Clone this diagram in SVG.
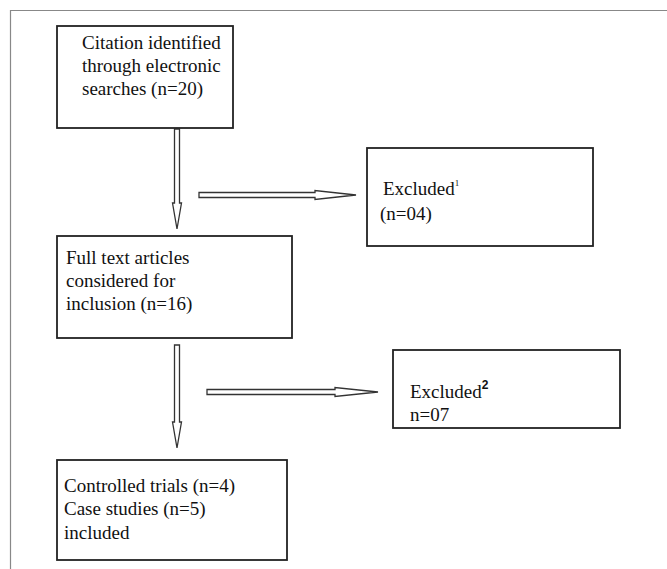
<svg xmlns="http://www.w3.org/2000/svg" width="667" height="569" viewBox="0 0 667 569">
<style>
.box{fill:#fff;stroke:#222;stroke-width:1.8}
.t{font-family:"Liberation Serif","Times New Roman",serif;font-size:19px;fill:#111}
.arr{fill:#fff;stroke:#333;stroke-width:1.3;stroke-linejoin:miter}
.frame{stroke:#888;stroke-width:1.2;fill:none}
</style>
<rect width="667" height="569" fill="#fff"/>
<path class="frame" d="M10.5 569 V10.5 H667"/>
<g id="connectors">
<path class="arr" d="M174.5 129 V203 H172.5 L177 229 L181.5 203 H179.5 V129 Z"/>
<path class="arr" d="M199 192.5 H315 V190.5 L356 195 L315 199.5 V197.5 H199 Z"/>
<path class="arr" d="M174.5 345 V422 H172.5 L177 448 L181.5 422 H179.5 V345 Z"/>
<path class="arr" d="M207 389.5 H335 V387.5 L378 392 L335 396.5 V394.5 H207 Z"/>
</g>
<g id="n1">
<rect class="box" x="57" y="26" width="176" height="102"/>
<text class="t" x="82" y="49">Citation identified</text>
<text class="t" x="82" y="72">through electronic</text>
<text class="t" x="82" y="95">searches (n=20)</text>
</g>
<g id="n2">
<rect class="box" x="367" y="148" width="226" height="98"/>
<text class="t" x="383" y="195">Excluded<tspan font-size="9" dy="-9">1</tspan></text>
<text class="t" x="380" y="220">(n=04)</text>
</g>
<g id="n3">
<rect class="box" x="57" y="236" width="235" height="102"/>
<text class="t" x="66" y="264">Full text articles</text>
<text class="t" x="66" y="287">considered for</text>
<text class="t" x="66" y="310">inclusion (n=16)</text>
</g>
<g id="n4">
<rect class="box" x="393" y="350" width="227" height="78"/>
<text class="t" x="410" y="398">Excluded<tspan font-size="12" font-weight="bold" font-family="Liberation Sans, sans-serif" dy="-9">2</tspan></text>
<text class="t" x="410" y="421">n=07</text>
</g>
<g id="n5">
<rect class="box" x="57" y="460" width="230" height="100"/>
<text class="t" x="64" y="492">Controlled trials (n=4)</text>
<text class="t" x="64" y="515">Case studies (n=5)</text>
<text class="t" x="64" y="539">included</text>
</g>
</svg>
